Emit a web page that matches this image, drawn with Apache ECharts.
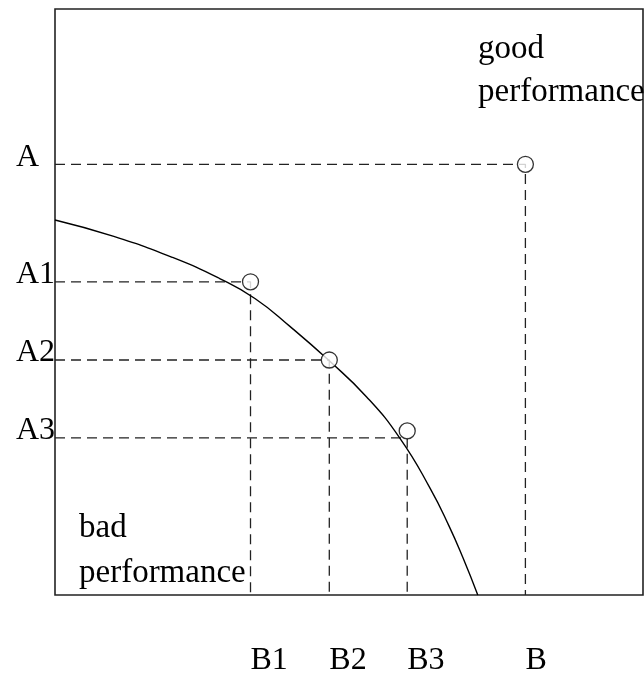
<!DOCTYPE html>
<html>
<head>
<meta charset="utf-8">
<script src="https://cdn.jsdelivr.net/npm/echarts@6/dist/echarts.min.js"></script>
<style>
html,body{margin:0;padding:0;background:#fff;}
#chart{width:644px;height:677px;}
</style>
</head>
<body>
<div id="chart"></div>
<script>
// Tick labels and their positions
const aLabels = ['A1', 'A2', 'A3', 'A'];
const aValues = [53.45, 40.1, 26.8, 73.5];
const bLabels = ['B1', 'B2', 'B3', 'B'];
const bValues = [33.25, 46.65, 59.9, 80.0];
// Circle markers
const circleX = [33.25, 46.65, 59.9, 80.0];
const circleY = [53.45, 40.1, 28.0, 73.5];
// Trade-off curve
const curveX = [0, 10, 20, 28, 34, 40, 46.6, 53, 58.7, 63.8, 67, 69.4, 71.9];
const curveY = [64.0, 61.2, 57.6, 54.0, 50.6, 45.8, 40.0, 33.8, 26.7, 18.2, 11.8, 6.3, 0];
// Annotations
const goodText = 'good\nperformance';
const badText = 'bad\nperformance';

const FONT = 'Liberation Serif';

function labelFor(values, labels) {
  return function (v) {
    const i = values.findIndex(x => Math.abs(x - v) < 1e-6);
    return i >= 0 ? labels[i] : '';
  };
}

const series = [];
series.push({
  type: 'line',
  data: curveX.map((x, i) => [x, curveY[i]]),
  smooth: 0.5,
  symbol: 'none',
  lineStyle: { color: '#000', width: 1.4 },
  z: 3
});
for (let i = 0; i < aValues.length; i++) {
  series.push({
    type: 'line',
    data: [[0, aValues[i]], [bValues[i], aValues[i]], [bValues[i], 0]],
    symbol: 'none',
    lineStyle: { color: '#222', width: 1.3, type: [10, 6] },
    z: 2
  });
}
series.push({
  type: 'scatter',
  data: circleX.map((x, i) => [x, circleY[i]]),
  symbol: 'circle',
  symbolSize: 16,
  itemStyle: { color: '#fff', borderColor: '#000', borderWidth: 1.3 },
  z: 5
});

const chart = echarts.init(document.getElementById('chart'), null, { renderer: 'canvas' });
chart.setOption({
  animation: false,
  backgroundColor: '#fff',
  grid: {
    left: 55, top: 9, width: 588, height: 588,
    show: true, borderColor: '#222', borderWidth: 1.6, backgroundColor: 'transparent'
  },
  xAxis: {
    type: 'value', min: 0, max: 100,
    axisLine: { show: false }, axisTick: { show: false }, splitLine: { show: false },
    axisLabel: {
      customValues: bValues,
      formatter: labelFor(bValues, bLabels),
      align: 'left',
      verticalAlign: 'top',
      lineHeight: 32,
      margin: 50,
      color: '#000',
      fontFamily: FONT,
      fontSize: 32
    }
  },
  yAxis: {
    type: 'value', min: 0, max: 100,
    axisLine: { show: false }, axisTick: { show: false }, splitLine: { show: false },
    axisLabel: {
      customValues: aValues,
      formatter: labelFor(aValues, aLabels),
      align: 'left',
      verticalAlign: 'bottom',
      lineHeight: 14,
      margin: 39,
      color: '#000',
      fontFamily: FONT,
      fontSize: 32
    }
  },
  graphic: [
    {
      type: 'text', x: 478, y: 28,
      style: { text: goodText, font: '33px "Liberation Serif"', fill: '#000', lineHeight: 43 }, z: 10
    },
    {
      type: 'text', x: 79, y: 506,
      style: { text: badText, font: '33px "Liberation Serif"', fill: '#000', lineHeight: 45 }, z: 10
    }
  ],
  series: series
});
</script>
</body>
</html>
